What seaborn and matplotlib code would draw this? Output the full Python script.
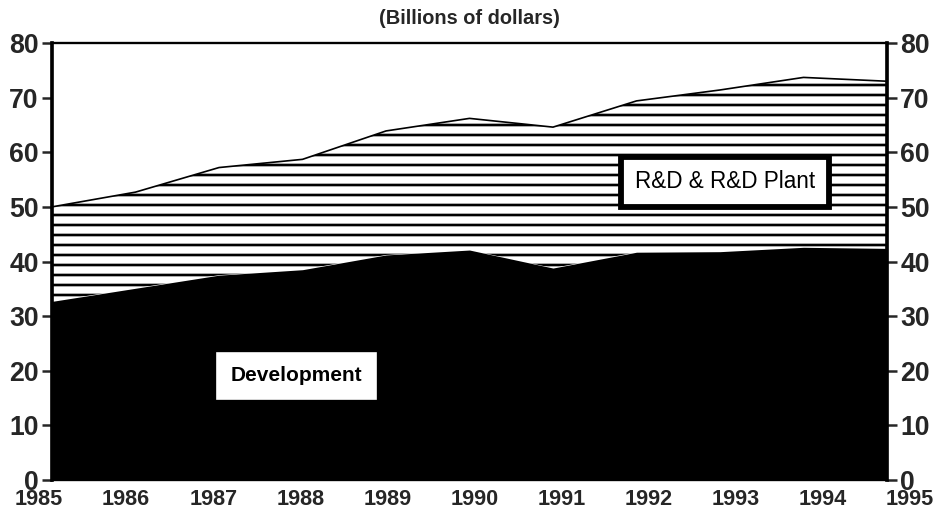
import pandas as pd
import matplotlib
matplotlib.use("Agg")
import matplotlib.pyplot as plt
import matplotlib.transforms as mtransforms
import seaborn as sns

# values (billions of dollars)
years = [1985, 1986, 1987, 1988, 1989, 1990, 1991, 1992, 1993, 1994, 1995]
development = [32.7, 35.1, 37.5, 38.5, 41.2, 42.1, 38.8, 41.7, 41.8, 42.6, 42.4]
rd_total = [50.0, 52.7, 57.2, 58.7, 63.9, 66.2, 64.6, 69.4, 71.4, 73.7, 73.0]
y_ticks = [0, 10, 20, 30, 40, 50, 60, 70, 80]

df = pd.DataFrame({"year": years, "development": development, "total": rd_total})

sns.set_style("white")
plt.rcParams["font.family"] = ["Liberation Sans", "DejaVu Sans"]
plt.rcParams["hatch.linewidth"] = 1.6
plt.rcParams["hatch.color"] = "black"

DPI = 120
fig = plt.figure(figsize=(934 / DPI, 522 / DPI), dpi=DPI)
ax = fig.add_axes([52 / 934, 1 - 480 / 522, 835 / 934, 437 / 522])

# hatched band: R&D & R&D plant on top of development
ax.fill_between(df["year"], df["development"], df["total"], facecolor="white",
                edgecolor="black", hatch="--", linewidth=0)
ax.fill_between(df["year"], 0, df["development"], color="black", linewidth=0)
sns.lineplot(data=df, x="year", y="total", color="black", linewidth=1.0, ax=ax)

ax.set_xlim(1985, 1995)
ax.set_ylim(0, 80)
ax.set_xlabel("")
ax.set_ylabel("")

ax.set_yticks(y_ticks)
ax.set_yticklabels([str(v) for v in y_ticks], fontweight="bold")
ax.tick_params(axis="y", left=True, right=True, labelleft=True,
               labelright=True, length=6, width=1.5, direction="out", pad=2,
               labelsize=16)
for lab in ax.yaxis.get_ticklabels(which="both"):
    lab.set_fontweight("bold")

# year labels: the scan spreads them slightly wider than the plot area
ax.set_xticks(years)
ax.set_xticklabels([])
ax.tick_params(axis="x", length=0)
base = mtransforms.blended_transform_factory(ax.transData, ax.transAxes)
for k, yr in enumerate(years):
    shift = mtransforms.ScaledTranslation((-13 + 3.6 * k) / DPI, -9 / DPI,
                                          fig.dpi_scale_trans)
    ax.text(yr, 0, str(yr), transform=base + shift, ha="center", va="top",
            fontsize=13, fontweight="bold", clip_on=False)

for side in ["left", "right"]:
    ax.spines[side].set_linewidth(2.2)
ax.spines["top"].set_linewidth(1.4)
ax.spines["bottom"].set_linewidth(1.4)
for s in ax.spines.values():
    s.set_color("black")

ax.text(0.293, 0.238, "Development", transform=ax.transAxes, ha="center",
        va="center", fontsize=12.5, fontweight="bold", color="black",
        bbox=dict(boxstyle="square,pad=0.65", facecolor="white", edgecolor="white"))
ax.text(0.806, 0.682, "R&D & R&D Plant", transform=ax.transAxes, ha="center",
        va="center", fontsize=13.5, color="black",
        bbox=dict(boxstyle="square,pad=0.6", facecolor="white", edgecolor="black",
                  linewidth=3.5))

fig.text(0.503, 1 - 19 / 522, "(Billions of dollars)", ha="center", va="center",
         fontsize=12, fontweight="bold")

fig.savefig("out.png", dpi=DPI)
